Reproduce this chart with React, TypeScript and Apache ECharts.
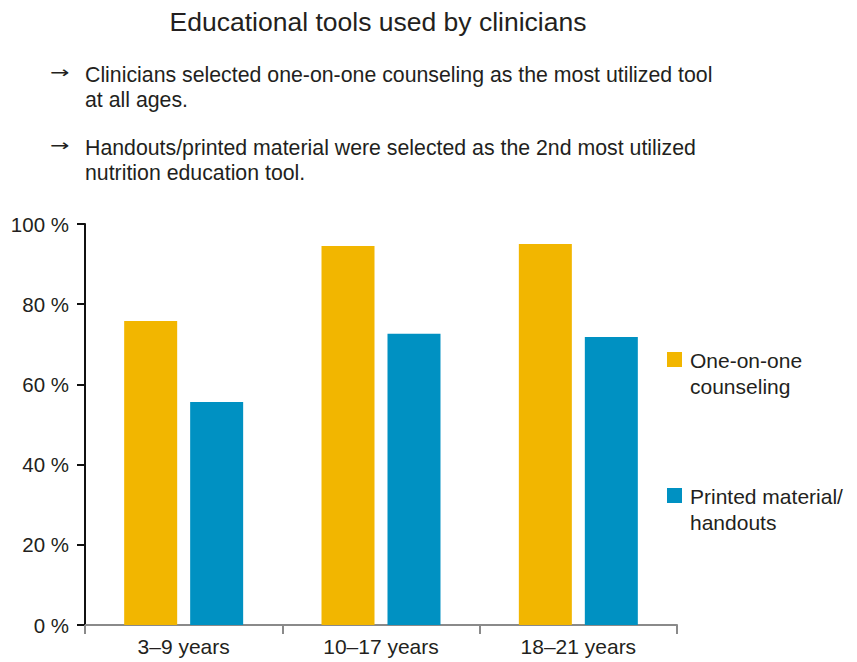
import React, { useEffect, useRef } from "react";
import * as echarts from "echarts";

const categories = ["3–9 years", "10–17 years", "18–21 years"];
const counseling = [75.8, 94.5, 95.0];
const printed = [55.6, 72.6, 71.8];
const yTicks = [0, 20, 40, 60, 80, 100];

const titleText = "Educational tools used by clinicians";
const bullets = [
  ["Clinicians selected one-on-one counseling as the most utilized tool", "at all ages."],
  ["Handouts/printed material were selected as the 2nd most utilized", "nutrition education tool."],
];
const legendItems = [
  { name: "One-on-one counseling", lines: ["One-on-one", "counseling"], color: "#F2B600" },
  { name: "Printed material/handouts", lines: ["Printed material/", "handouts"], color: "#0091C2" },
];

const FONT = "'Liberation Sans', Arial, Helvetica, sans-serif";
const INK = "#231f20";

export default function App() {
  const ref = useRef<HTMLDivElement>(null);

  useEffect(() => {
    if (!ref.current) return;
    const chart = echarts.init(ref.current, null, { renderer: "svg" });

    const graphic: any[] = [];
    bullets.forEach((b, i) => {
      const top = 62 + i * 73;
      // arrow marker, stretched horizontally to a long thin arrow
      graphic.push({
        type: "text",
        x: 50,
        y: top + 3,
        scaleX: 1.45,
        style: { text: "→", font: `16px 'DejaVu Sans', sans-serif`, fill: INK },
      });
      graphic.push({
        type: "text",
        left: 85,
        top: top,
        style: { text: b.join("\n"), font: `21.3px ${FONT}`, fill: INK, lineHeight: 25 },
      });
    });
    legendItems.forEach((l, i) => {
      const top = 352 + i * 136;
      graphic.push({
        type: "rect",
        shape: { x: 667, y: top, width: 15, height: 15 },
        style: { fill: l.color },
      });
      graphic.push({
        type: "text",
        left: 690,
        top: top - 5,
        style: { text: l.lines.join("\n"), font: `21px ${FONT}`, fill: INK, lineHeight: 26 },
      });
    });

    chart.setOption({
      animation: false,
      title: {
        text: titleText,
        left: 373,
        textAlign: "center",
        top: 3,
        textStyle: { fontFamily: FONT, fontSize: 26.5, fontWeight: "normal", color: INK },
      },
      grid: { left: 85, right: 180, top: 224, bottom: 37, containLabel: false },
      xAxis: {
        type: "category",
        data: categories,
        axisLine: { lineStyle: { color: "#8a8a8a", width: 2 } },
        axisTick: { show: true, alignWithLabel: false, length: 9, lineStyle: { color: "#8a8a8a", width: 2 } },
        axisLabel: { fontFamily: FONT, fontSize: 21, color: INK, margin: 11 },
      },
      yAxis: {
        type: "value",
        min: yTicks[0],
        max: yTicks[yTicks.length - 1],
        interval: 20,
        splitLine: { show: false },
        axisLine: { show: true, lineStyle: { color: "#111", width: 2 } },
        axisTick: { show: true, length: 8, lineStyle: { color: "#111", width: 2 } },
        axisLabel: { formatter: "{value} %", fontFamily: FONT, fontSize: 20.5, color: INK, margin: 16 },
      },
      series: [
        {
          name: legendItems[0].name,
          type: "bar",
          data: counseling,
          barWidth: 53,
          barGap: "24.5%",
          itemStyle: { color: legendItems[0].color },
        },
        {
          name: legendItems[1].name,
          type: "bar",
          data: printed,
          barWidth: 53,
          itemStyle: { color: legendItems[1].color },
        },
      ],
      graphic,
    });

    return () => chart.dispose();
  }, []);

  return <div ref={ref} style={{ width: 857, height: 662, position: "absolute", left: 0, top: 0 }} />;
}
